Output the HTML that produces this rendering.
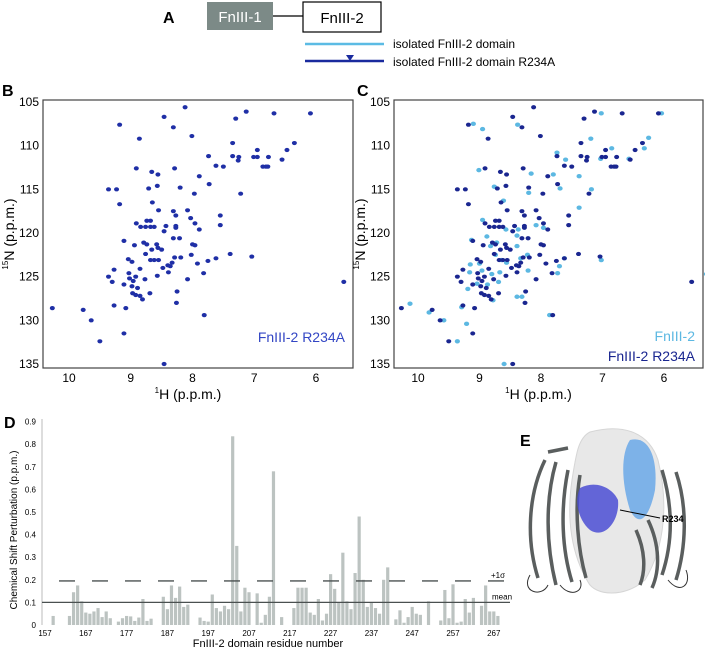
<!DOCTYPE html>
<html><head><meta charset="utf-8"><style>
body{margin:0;background:#fff;width:705px;height:652px;overflow:hidden;font-family:"Liberation Sans",sans-serif}
svg{position:absolute;left:0;top:0}
</style></head><body>
<svg id="fig" width="705" height="652" xmlns="http://www.w3.org/2000/svg" font-family="Liberation Sans, sans-serif">
<g>
<text x="163" y="23" font-size="16" font-weight="bold">A</text>
<rect x="207" y="2" width="66" height="28" fill="#7c8a87"/>
<text x="240" y="22" font-size="15" fill="#fff" text-anchor="middle">FnIII-1</text>
<line x1="273" y1="16" x2="303" y2="16" stroke="#000" stroke-width="1.2"/>
<rect x="303" y="2" width="78" height="30" fill="#fff" stroke="#000" stroke-width="1.2"/>
<text x="342" y="23" font-size="15" text-anchor="middle">FnIII-2</text>
<line x1="305" y1="44" x2="384" y2="44" stroke="#5bbbe4" stroke-width="2.5"/>
<line x1="305" y1="61" x2="384" y2="61" stroke="#1a2a9e" stroke-width="2.5"/>
<polygon points="346,55 354,55 350,61" fill="#1a2a9e"/>
<text x="393" y="48" font-size="12">isolated FnIII-2 domain</text>
<text x="393" y="66" font-size="12">isolated FnIII-2 domain R234A</text>
</g>
<g id="pb"></g>
<g id="pc"></g>
<g id="pd"></g>
<g>
<text x="520" y="446" font-size="16" font-weight="bold">E</text>
<path d="M590 432 C620 424 648 430 658 460 C668 500 666 545 645 580 C625 598 595 596 588 582 C572 555 566 520 572 480 C576 455 578 438 590 432Z" fill="#e8e8e8" stroke="#d6d6d6"/>
<g stroke="#5a5e5e" stroke-width="3.5" fill="none">
<path d="M545 460 C528 495 526 540 538 578"/><path d="M556 462 C545 500 546 545 556 585"/>
<path d="M568 470 C560 510 562 550 572 582"/><path d="M580 475 C574 510 578 550 586 578"/>
<path d="M548 452 L568 448"/>
<path d="M662 470 C674 510 672 545 662 575"/><path d="M676 472 C688 508 686 548 676 580"/>
<path d="M648 520 C660 545 660 570 652 588"/><path d="M636 530 C645 550 646 570 640 585"/>
</g>
<g stroke="#333" stroke-width="1" fill="none"><path d="M530 575 C520 592 542 598 548 585"/><path d="M668 580 C680 595 692 585 686 570"/><path d="M560 585 C570 598 585 592 580 580"/></g>
<path d="M630 440 C650 435 658 460 655 490 C650 515 640 530 630 510 C622 485 620 455 630 440Z" fill="#6aa8e8" opacity="0.85"/>
<path d="M580 488 C595 480 612 487 618 500 C620 520 605 540 590 530 C578 520 574 500 580 488Z" fill="#4b4ed4" opacity="0.85"/>
<line x1="620" y1="510" x2="660" y2="518" stroke="#000" stroke-width="1"/>
<text x="662" y="522" font-size="9" font-weight="bold">R234</text>
</g>
</svg>
<script>
const NS='http://www.w3.org/2000/svg';
function mk(parent,tag,attrs,text){const e=document.createElementNS(NS,tag);for(const k in attrs)e.setAttribute(k,attrs[k]);if(text!==undefined)e.textContent=text;parent.appendChild(e);return e;}
// ---- NMR data (ppm) ----
const r234aH=[8.12,8.46,7.13,7.30,6.68,6.09,9.18,8.31,8.01,8.86,7.35,6.35,8.91,8.29,8.66,8.56,7.89,7.74,7.35,7.25,7.26,7.01,6.95,6.95,6.47,6.55,6.77,6.86,6.81,6.78,7.62,7.50,9.36,9.23,9.18,8.71,8.57,8.20,7.73,7.97,7.22,8.65,8.55,8.31,8.08,8.27,7.55,8.91,8.74,8.68,8.84,8.76,8.68,8.62,8.43,8.46,8.27,8.27,7.96,7.89,8.03,7.55,9.11,8.79,8.58,8.74,8.94,8.31,8.21,8.00,7.96,8.56,8.50,8.76,8.66,8.29,8.19,8.02,9.04,8.98,8.68,8.62,8.55,8.48,8.40,8.33,8.36,8.39,7.92,7.75,7.62,7.39,7.04,7.82,8.85,8.57,9.27,9.36,9.30,9.03,9.02,8.96,8.92,8.77,8.08,9.11,8.98,8.89,8.97,8.92,8.85,8.69,8.25,8.26,8.81,9.27,9.08,10.27,9.77,9.64,7.81,9.11,9.50,8.46,5.55];
const r234aN=[105.6,106.7,106.1,106.9,106.3,106.3,107.6,107.9,108.9,109.2,109.7,109.7,112.6,112.6,113.0,113.3,113.5,111.2,111.2,111.3,111.7,111.3,111.3,110.5,110.5,111.6,111.3,112.4,112.4,112.4,112.3,112.4,115.0,115.0,116.7,114.9,114.6,114.8,114.4,115.5,115.5,116.5,117.4,117.5,117.4,118.0,118.0,118.9,118.6,118.6,119.3,119.3,119.3,119.3,119.2,119.8,119.4,119.2,118.9,119.6,118.3,119.1,120.9,121.1,121.3,121.3,121.4,120.6,120.6,121.3,121.4,121.7,121.9,122.4,121.9,122.8,122.8,122.5,123.0,123.3,123.1,123.1,123.1,124.0,123.7,123.4,123.8,124.5,123.5,123.2,122.9,122.4,122.7,124.6,124.1,124.9,124.2,125.0,125.6,124.6,125.2,125.5,125.0,125.3,125.3,125.9,126.1,126.3,126.9,127.1,127.2,126.9,126.7,128.0,127.6,128.3,128.6,128.6,128.8,130.0,129.4,131.5,132.4,135.0,125.6];
const wtH=[8.95,9.10,8.38,9.01,8.16,8.76,8.20,7.69,7.80,7.38,7.19,6.25,6.32,6.85,7.74,7.60,7.03,6.57,7.18,8.61,7.38,8.95,8.57,8.37,8.08,7.96,8.88,9.13,8.82,8.72,8.39,8.39,8.74,8.64,8.56,8.33,8.22,9.15,9.00,9.16,8.96,8.80,8.67,8.21,7.70,7.62,7.73,9.19,9.04,8.87,8.69,8.78,8.39,8.31,9.29,10.13,9.82,9.58,9.21,9.36,7.86,8.60,5.31,7.02,6.04,7.02];
const wtN=[108.1,107.5,107.6,112.8,113.2,114.7,115.4,114.9,113.3,113.5,109.2,109.1,110.3,110.3,110.8,111.6,111.5,111.5,115.0,116.3,117.1,118.5,119.6,119.6,119.1,119.4,120.4,120.8,121.5,121.1,120.3,121.5,122.5,123.1,123.4,122.9,122.5,123.6,123.5,124.5,124.3,124.7,124.5,124.3,123.8,122.9,124.6,126.4,125.8,125.9,125.6,127.7,127.3,127.3,128.5,128.1,129.1,130.0,130.4,132.4,129.4,135.0,124.7,123.1,106.3,106.3];
const hTicks=[10,9,8,7,6];
const nTicks=[105,110,115,120,125,130,135];
// ---- CSP data ----
const residues=[158,162,163,164,165,166,167,168,169,170,171,172,174,175,176,177,178,179,180,181,182,185,186,187,188,189,190,191,194,195,196,197,198,199,200,201,202,203,204,205,206,208,209,210,211,212,214,217,218,219,220,221,222,223,224,225,226,227,228,229,230,231,232,233,234,235,236,237,238,239,240,242,243,244,245,246,247,248,250,253,254,255,256,257,258,259,260,261,263,264,265,266,267];
const csp=[0.04,0.04,0.145,0.175,0.105,0.055,0.05,0.06,0.075,0.035,0.06,0.03,0.015,0.03,0.04,0.038,0.018,0.033,0.115,0.018,0.028,0.125,0.07,0.175,0.12,0.17,0.08,0.09,0.033,0.018,0.015,0.135,0.075,0.06,0.085,0.07,0.835,0.35,0.06,0.165,0.145,0.14,0.01,0.045,0.125,0.68,0.035,0.075,0.165,0.165,0.165,0.055,0.045,0.115,0.02,0.05,0.225,0.16,0.1,0.32,0.105,0.07,0.23,0.48,0.2,0.08,0.1,0.075,0.05,0.2,0.255,0.025,0.065,0.01,0.035,0.08,0.05,0.045,0.105,0.02,0.155,0.03,0.18,0.01,0.015,0.115,0.055,0.12,0.085,0.175,0.06,0.06,0.04];
const cspTicks=[157,167,177,187,197,207,217,227,237,247,257,267];
const cspYTicks=[0,0.1,0.2,0.3,0.4,0.5,0.6,0.7,0.8,0.9];
const meanVal=0.1, sigmaVal=0.195;

function nmrPanel(g,label,x0,x1,hx10,hx6,lx,showWT,legend){
  const hs=h=>hx10+(10-h)*(hx6-hx10)/4;
  const ns=n=>102+(n-105)*(364-102)/30;
  mk(g,'text',{x:lx,y:96,'font-size':16,'font-weight':'bold',},label);
  mk(g,'rect',{x:x0,y:100,width:x1-x0,height:268,fill:'none',stroke:'#444','stroke-width':1.2,});
  hTicks.forEach(t=>{const e=mk(g,'text',{x:hs(t),y:382,'font-size':12,'text-anchor':'middle'},t);
    
    });
  nTicks.forEach(t=>{const e=mk(g,'text',{x:x0-4,y:ns(t)+4,'font-size':12,'text-anchor':'end'},t);
    
    });
  const xt=mk(g,'text',{x:(x0+x1)/2-10,y:399,'font-size':14,'text-anchor':'middle'});
  xt.innerHTML='<tspan font-size="8" dy="-6">1</tspan><tspan dy="6">H (p.p.m.)</tspan>';
  
  
  const yt=mk(g,'text',{transform:`translate(${x0-29},234) rotate(-90)`,'font-size':14,'text-anchor':'middle'});
  yt.innerHTML='<tspan font-size="8" dy="-6">15</tspan><tspan dy="6">N (p.p.m.)</tspan>';
  
  
  if(showWT){wtH.forEach((h,i)=>{const e=mk(g,'ellipse',{cx:hs(h),cy:ns(wtN[i]),rx:2.6,ry:2.2,fill:'#5cb8e2'});
    
    });}
  r234aH.forEach((h,i)=>{const e=mk(g,'ellipse',{cx:hs(h),cy:ns(r234aN[i]),rx:2.5,ry:2.1,fill:showWT?'#1a2690':'#1f2fa6'});
    
    });
  legend.forEach((l,i)=>{const e=mk(g,'text',{x:x1-8,y:l.y,'font-size':14,'text-anchor':'end',fill:l.c},l.t);
    
    });
}
nmrPanel(document.getElementById('pb'),'B',43,353,69,316,2,false,[{t:'FnIII-2 R234A',c:'#3346c4',y:342}]);
nmrPanel(document.getElementById('pc'),'C',394,703,418,664,357,true,[{t:'FnIII-2',c:'#5cb8e2',y:341},{t:'FnIII-2 R234A',c:'#1a2690',y:361}]);

// ---- Panel D ----
(function(){
  const g=document.getElementById('pd');
  const xs=r=>45+(r-157)*4.08;
  const ys=v=>625-v*226;
  mk(g,'text',{x:4,y:428,'font-size':16,'font-weight':'bold',},'D');
  mk(g,'line',{x1:42,y1:419,x2:42,y2:625,stroke:'#bbb','stroke-width':1,});
  cspYTicks.forEach(t=>{const e=mk(g,'text',{x:36,y:ys(t)+3,'font-size':8,'text-anchor':'end'},t===0?'0':t.toFixed(1));
    
    });
  cspTicks.forEach(t=>{const e=mk(g,'text',{x:xs(t),y:636,'font-size':8,'text-anchor':'middle'},t);
    
    });
  residues.forEach((r,i)=>{const e=mk(g,'rect',{x:xs(r+1)-1.6,y:ys(csp[i]),width:3.2,height:csp[i]*226,fill:'#bcc3c1'});
    
    });
  mk(g,'line',{x1:42,y1:ys(meanVal),x2:510,y2:ys(meanVal),stroke:'#4a5050','stroke-width':1.3,});
  mk(g,'line',{x1:59,y1:ys(sigmaVal),x2:510,y2:ys(sigmaVal),stroke:'#4a5050','stroke-width':1.3,'stroke-dasharray':'16 17',});
  mk(g,'text',{x:491,y:ys(sigmaVal)-3,'font-size':8,},'+1σ');
  mk(g,'text',{x:492,y:ys(meanVal)-3,'font-size':8,},'mean');
  mk(g,'text',{x:268,y:647,'font-size':11,'text-anchor':'middle',},'FnIII-2 domain residue number');
  mk(g,'text',{transform:'translate(17,530) rotate(-90)','font-size':10,'text-anchor':'middle',},'Chemical Shift Perturbation (p.p.m.)');
})();
</script>
</body></html>
